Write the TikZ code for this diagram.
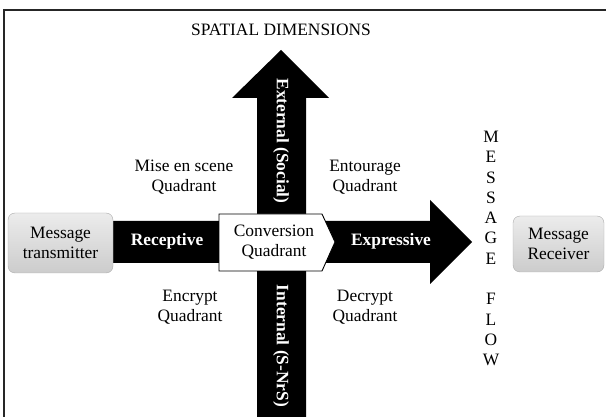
\documentclass[tikz,border=0pt]{standalone}
\usepackage{fontspec}
\setmainfont{Liberation Serif}
\begin{document}
\begin{tikzpicture}[x=1pt,y=-1pt,
  lbl/.style={font=\fontsize{17.4}{20}\selectfont, align=center, inner sep=0pt},
  wlbl/.style={text=white, font=\fontsize{17.4}{20}\selectfont\bfseries, align=center, inner sep=0pt},
  endbox/.style={draw=gray!65, rounded corners=7pt, top color=gray!15, bottom color=gray!40,
    font=\fontsize{17.4}{20}\selectfont, align=center, inner sep=0pt}]
\useasboundingbox (0,0) rectangle (606,417);
% frame
\draw[line width=2pt, black!85] (3.5,417) -- (3.5,10.5) -- (606,10.5);
% horizontal big arrow
\fill[black] (113,221) -- (430,221) -- (430,200) -- (472,242) -- (430,284) -- (430,263) -- (113,263) -- cycle;
% vertical big arrow
\fill[black] (257,417) -- (257,98) -- (232,98) -- (281,50) -- (329,98) -- (306,98) -- (306,417) -- cycle;
% conversion box
\draw[fill=white, line width=0.9pt] (219,214) -- (322,214) -- (335,242) -- (322,271) -- (219,271) -- cycle;
\node[lbl] (conv) at (274,242) {Conversion\\Quadrant};
% arrow labels
\node[wlbl, rotate=-90] (ext) at (281,141) {External (Social)};
\node[wlbl, rotate=-90] (int) at (281,346) {Internal (S-NrS)};
\node[wlbl] (rec) at (167,241) {Receptive};
\node[wlbl] (expr) at (391,241) {Expressive};
% quadrant labels
\node[lbl] (title) at (281,30) {SPATIAL DIMENSIONS};
\node[lbl] (mise) at (184,177) {Mise en scene\\Quadrant};
\node[lbl] (ent) at (365,177) {Entourage\\Quadrant};
\node[lbl] (enc) at (190,307) {Encrypt\\Quadrant};
\node[lbl] (dec) at (365,307) {Decrypt\\Quadrant};
% end boxes
\node[endbox, minimum width=105pt, minimum height=60pt] (tx) at (60.5,243) {Message\\transmitter};
\node[endbox, minimum width=91pt, minimum height=56pt] (rx) at (558.5,244) {Message\\Receiver};
% message flow
\node[font=\fontsize{17.4}{20.3}\selectfont, align=center, inner sep=0pt] (flow) at (491,248.5)
  {M\\E\\S\\S\\A\\G\\E\\[20.3pt]F\\L\\O\\W};
\end{tikzpicture}
\end{document}
